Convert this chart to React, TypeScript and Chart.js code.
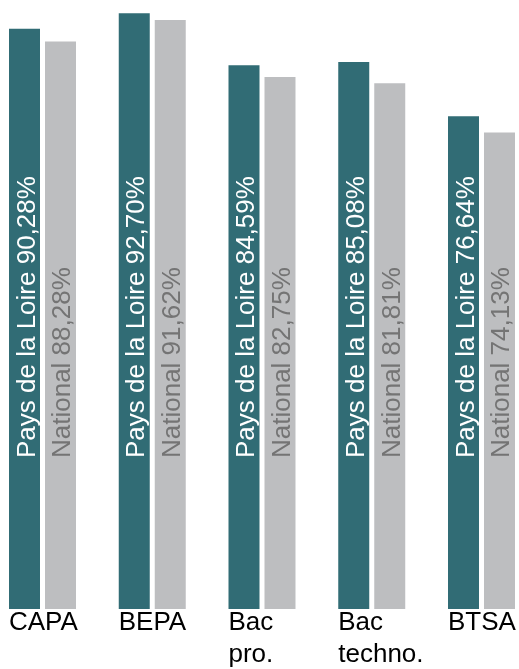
import React, { useEffect, useRef } from "react";
import { Chart, registerables } from "chart.js";

Chart.register(...registerables);

const categories: string[][] = [["CAPA"], ["BEPA"], ["Bac", "pro."], ["Bac", "techno."], ["BTSA"]];
const seriesNames: string[] = ["Pays de la Loire", "National"];
const paysDeLaLoire: number[] = [90.28, 92.7, 84.59, 85.08, 76.64];
const national: number[] = [88.28, 91.62, 82.75, 81.81, 74.13];

const TEAL = "#316c75";
const GREY = "#bdbec0";
const FONT = "'Liberation Sans', Arial, sans-serif";

const fmt = (v: number) => v.toFixed(2).replace(".", ",") + "%";

const innerLabels = {
  id: "innerLabels",
  afterDatasetsDraw(chart: any) {
    const ctx = chart.ctx;
    const area = chart.chartArea;
    chart.data.datasets.forEach((ds: any, di: number) => {
      const meta = chart.getDatasetMeta(di);
      meta.data.forEach((bar: any, i: number) => {
        const text = `${ds.label} ${fmt(ds.data[i])}`;
        ctx.save();
        ctx.translate(bar.x, area.bottom - 151);
        ctx.rotate(-Math.PI / 2);
        ctx.font = `26px ${FONT}`;
        ctx.fillStyle = di === 0 ? "#ffffff" : "#747474";
        ctx.textAlign = "left";
        ctx.textBaseline = "alphabetic";
        ctx.fillText(text, 0, 10);
        ctx.restore();
      });
    });
  },
};

export default function App() {
  const ref = useRef<HTMLCanvasElement | null>(null);
  useEffect(() => {
    if (!ref.current) return;
    const chart = new Chart(ref.current, {
      type: "bar",
      data: {
        labels: categories,
        datasets: [
          {
            label: seriesNames[0],
            data: paysDeLaLoire,
            backgroundColor: TEAL,
            categoryPercentage: 0.656,
            barPercentage: 0.861,
            clip: false as any,
          },
          {
            label: seriesNames[1],
            data: national,
            backgroundColor: GREY,
            categoryPercentage: 0.656,
            barPercentage: 0.861,
            clip: false as any,
          },
        ],
      },
      options: {
        animation: false,
        responsive: true,
        maintainAspectRatio: false,
        layout: { padding: { left: 42.5, right: 37.5, top: 8, bottom: 0 } },
        plugins: { legend: { display: false }, tooltip: { enabled: false } },
        scales: {
          x: {
            type: "category",
            offset: false,
            grid: { display: false, drawTicks: false },
            border: { display: false },
            afterFit: (s: any) => {
              s.paddingLeft = 0;
              s.paddingRight = 0;
            },
            ticks: {
              autoSkip: false,
              maxRotation: 0,
              minRotation: 0,
              align: "start",
              labelOffset: -33.5,
              padding: -2,
              color: "#000000",
              font: { family: FONT, size: 26, lineHeight: 32 / 26 },
            },
          },
          y: {
            display: false,
            min: 0,
            max: 93.5,
            grid: { display: false },
          },
        },
      },
      plugins: [innerLabels],
    });
    return () => chart.destroy();
  }, []);
  return (
    <div style={{ position: "fixed", left: 0, top: 0, width: "519px", height: "669px" }}>
      <canvas ref={ref} />
    </div>
  );
}
